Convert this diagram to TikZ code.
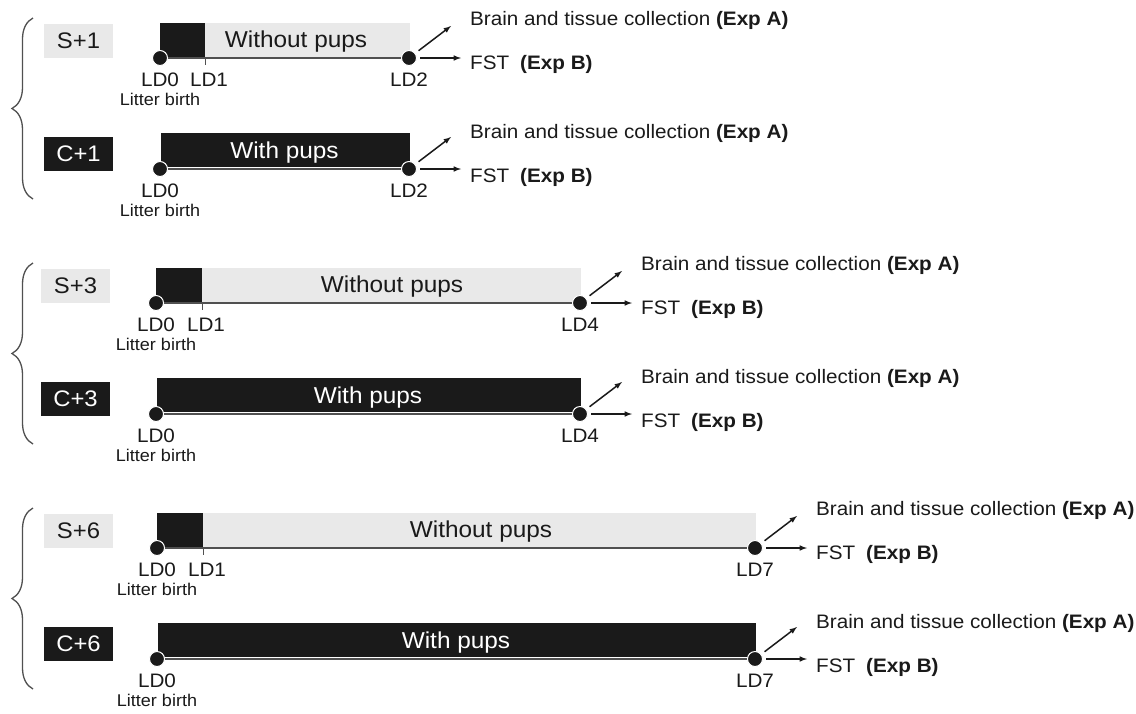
\documentclass[tikz,border=0pt]{standalone}
\usepackage{fontspec}
\setmainfont{Liberation Sans}[FakeStretch=1.06]
\usepackage{xcolor}
\usetikzlibrary{arrows, positioning, calc, math, decorations.pathreplacing}
\definecolor{barblack}{RGB}{26,26,26}
\definecolor{bargray}{RGB}{233,233,233}
\definecolor{axisgray}{RGB}{80,80,80}

\tikzset{
  grouptag/.style={minimum width=69pt, minimum height=34pt, inner sep=0pt, font=\fontsize{22.5}{25}\selectfont},
  shamtag/.style={grouptag, fill=bargray, text=barblack},
  ctrltag/.style={grouptag, fill=barblack, text=white},
  daydot/.style={circle, fill=barblack, draw=white, line width=1pt, minimum size=15pt, inner sep=0pt},
  daylabel/.style={inner sep=0pt, font=\fontsize{19.5}{22}\selectfont, text=barblack},
  birthlabel/.style={inner sep=0pt, font=\fontsize{17}{19}\selectfont, text=barblack},
  outcome/.style={anchor=base west, inner sep=0pt, font=\fontsize{19.5}{22}\selectfont, text=barblack},
  bartext/.style={inner sep=0pt, font=\fontsize{23}{26}\selectfont},
  outarrow/.style={-latex, line width=1.5pt, barblack},
}

\begin{document}
\begin{tikzpicture}[x=1pt,y=-1pt]
\useasboundingbox[fill=white] (0,0) rectangle (1136,713);

% line y / first day x / last day x / tag x / LD1 x / text x / group / last day
\foreach \yl/\xa/\xz/\xt/\xw/\xm/\pd/\ed in {58/160/409/44/205/296/1/2, 303/156/580/41/202/392/3/4, 548/157/755/44/203/481/6/7}{
\tikzmath{
\yc=\yl+111;
}
% brace
\draw[axisgray, line width=1.3pt, decorate, decoration={brace, amplitude=21pt}] (33,\yc+30) -- (33,\yl-40);

% separated dams
\node[shamtag] (s\pd-tag) at (\xt+34.5,\yl-17) {S+\pd};
\fill[bargray] (\xw,\yl-35) rectangle (\xz+1,\yl-1);
\fill[barblack] (\xa,\yl-35) rectangle (\xw,\yl-1);
\node[bartext, text=barblack] (s\pd-txt) at (\xm,\yl-16) {Without pups};
\draw[axisgray, line width=1.5pt] (\xa,\yl) -- (\xz,\yl);
\draw[axisgray, line width=1pt] (\xw,\yl-1) -- (\xw,\yl+7);
\node[daydot] (s\pd-d0) at (\xa,\yl) {};
\node[daydot] (s\pd-de) at (\xz,\yl) {};
\node[daylabel, below=7pt of s\pd-d0] (s\pd-l0) {LD0};
\node[daylabel] (s\pd-l1) at (\xw+4,\yl+22) {LD1};
\node[birthlabel, below=6pt of s\pd-l0] (s\pd-b) {Litter birth};
\node[daylabel, below=7pt of s\pd-de] (s\pd-le) {LD\ed};
\node[outcome] (s\pd-exa) at ($(s\pd-de)+(61,-33)$) {Brain and tissue collection \textbf{(Exp A)}};
\node[outcome] (s\pd-exb) at ($(s\pd-de)+(61,11)$) {FST\hspace{11pt}\textbf{(Exp B)}};
\coordinate (s\pd-up) at ($(s\pd-de)+(42,-32)$);
\draw[outarrow, shorten <=4pt] (s\pd-de) -- (s\pd-up);
\draw[outarrow, shorten <=3pt, shorten >=9pt] (s\pd-de) -- (s\pd-de -| s\pd-exb.west);

% control dams
\node[ctrltag] (c\pd-tag) at (\xt+34.5,\yc-15) {C+\pd};
\fill[barblack] (\xa+1,\yc-36) rectangle (\xz+1,\yc-2);
\node[bartext, text=white] (c\pd-txt) at ({(\xa+\xz)/2},\yc-16) {With pups};
\draw[axisgray, line width=1.5pt] (\xa,\yc) -- (\xz,\yc);
\node[daydot] (c\pd-d0) at (\xa,\yc) {};
\node[daydot] (c\pd-de) at (\xz,\yc) {};
\node[daylabel, below=7pt of c\pd-d0] (c\pd-l0) {LD0};
\node[birthlabel, below=6pt of c\pd-l0] (c\pd-b) {Litter birth};
\node[daylabel, below=7pt of c\pd-de] (c\pd-le) {LD\ed};
\node[outcome] (c\pd-exa) at ($(c\pd-de)+(61,-31)$) {Brain and tissue collection \textbf{(Exp A)}};
\node[outcome] (c\pd-exb) at ($(c\pd-de)+(61,13)$) {FST\hspace{11pt}\textbf{(Exp B)}};
\coordinate (c\pd-up) at ($(c\pd-de)+(42,-32)$);
\draw[outarrow, shorten <=4pt] (c\pd-de) -- (c\pd-up);
\draw[outarrow, shorten <=3pt, shorten >=9pt] (c\pd-de) -- (c\pd-de -| c\pd-exb.west);
}
\end{tikzpicture}
\end{document}
